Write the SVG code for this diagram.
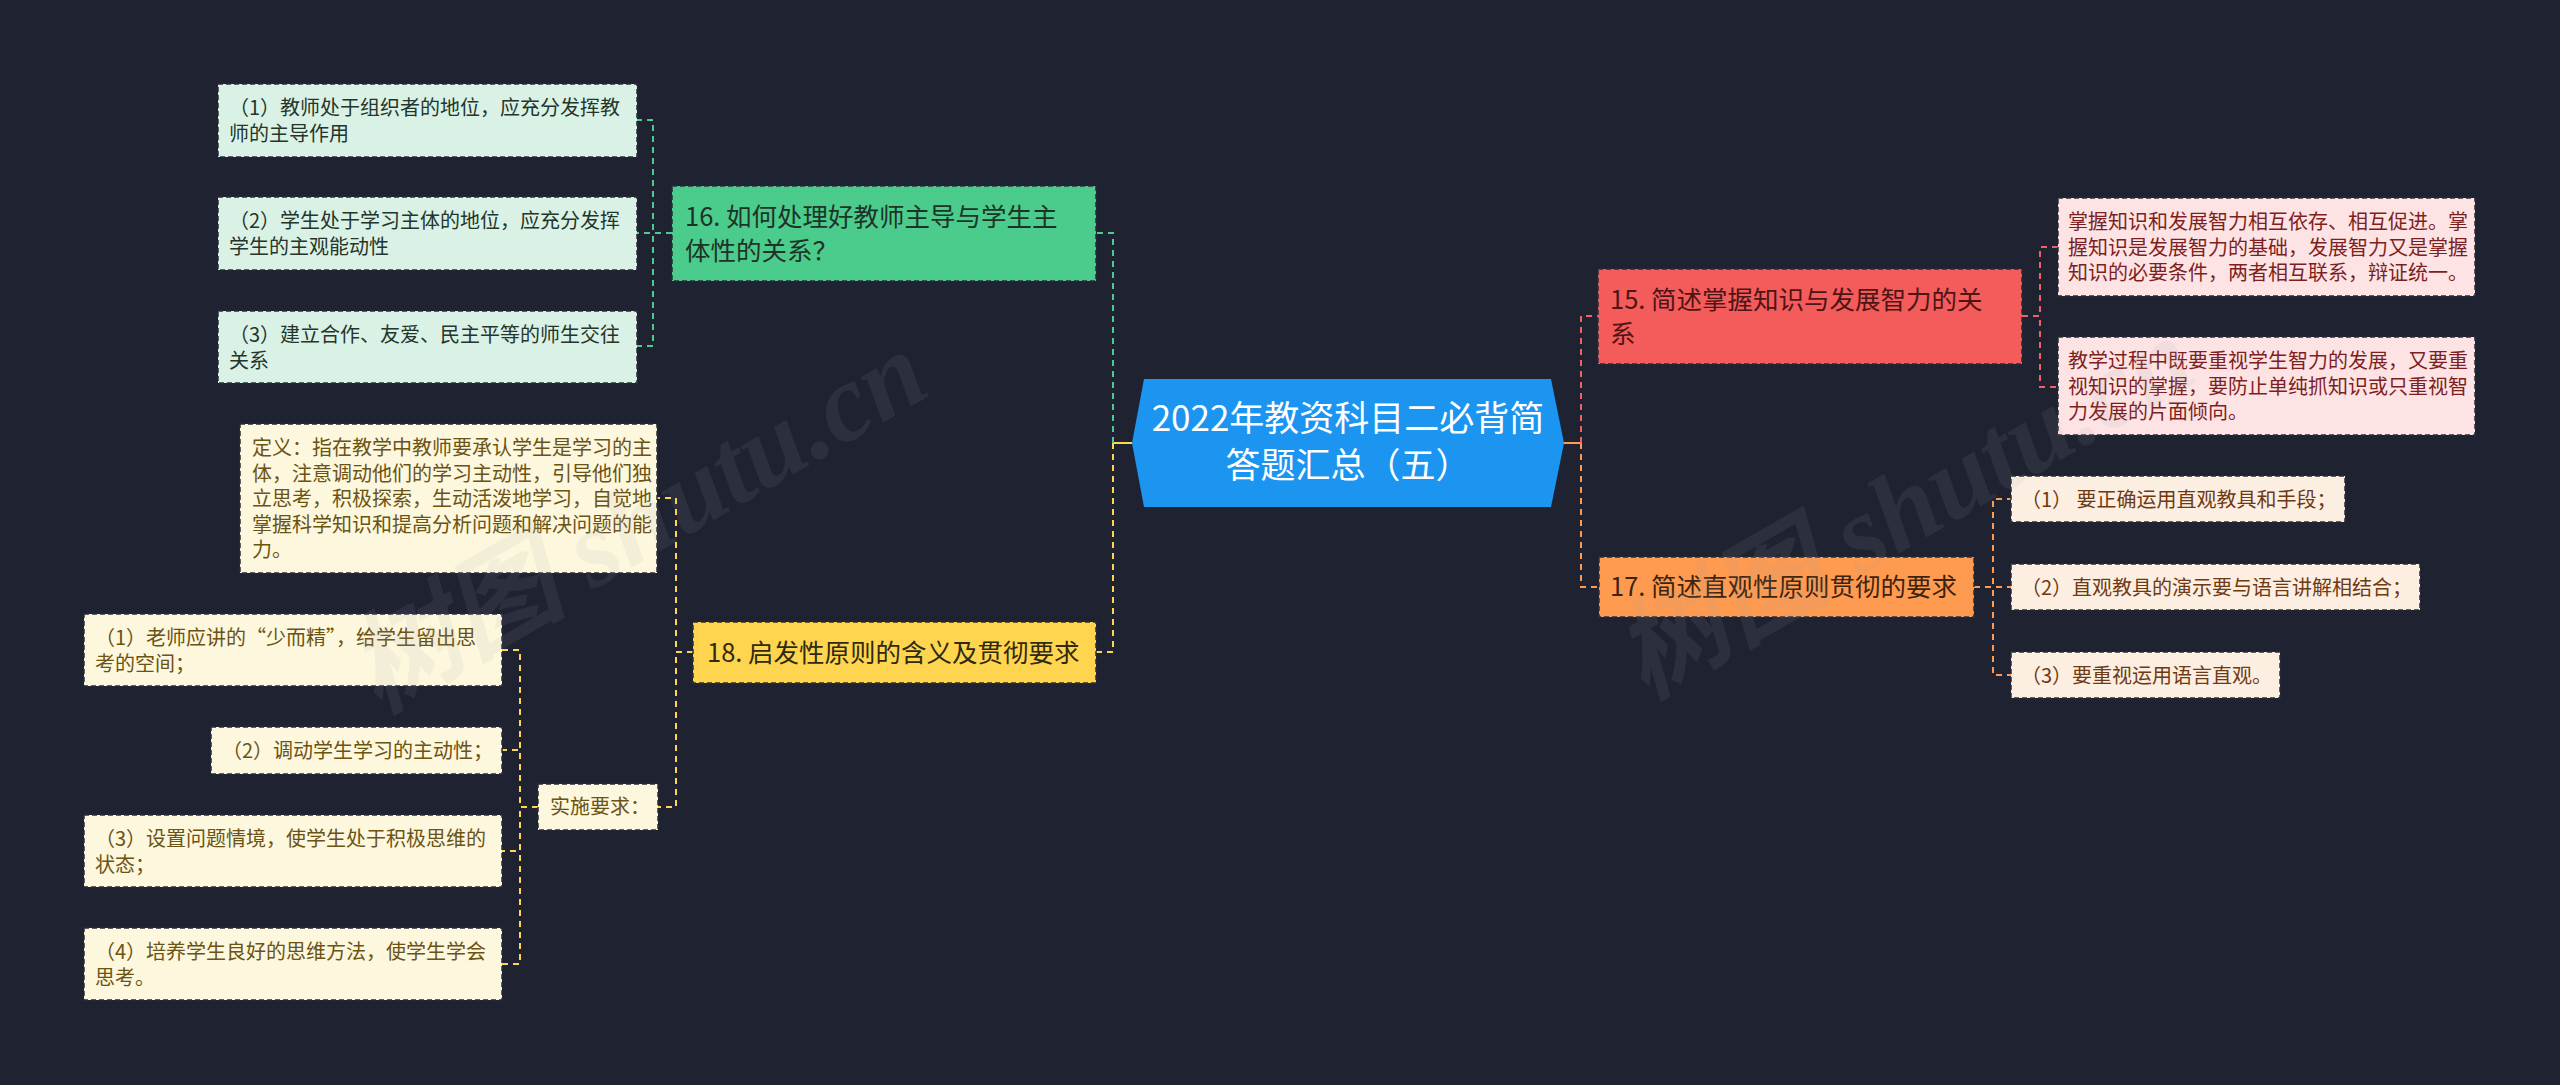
<svg xmlns="http://www.w3.org/2000/svg" width="2560" height="1085" viewBox="0 0 2560 1085">
<style>
text{font-family:"Noto Sans CJK SC","Noto Sans",sans-serif;}
.box{stroke:#2a2d38;stroke-width:1.5;stroke-dasharray:5 3;}
.t20{font-size:20px;}
.t25{font-size:25.5px;}
.c{fill:none;stroke-width:2;stroke-dasharray:6 5;}
.g{stroke:#4bcb8c;} .r{stroke:#f06262;} .o{stroke:#ff9b50;} .y{stroke:#ffd54f;}
.lf{fill:#daf2e6;} .lt{fill:#24352c;}
.rf{fill:#fde3e3;} .rt{fill:#7d1f1f;}
.of{fill:#fdeee2;} .ot{fill:#6e3a13;}
.yf{fill:#fdf7dd;} .yt{fill:#6b5314;}
.wm{font-family:"Liberation Serif","Noto Sans CJK SC",serif;font-size:110px;font-style:italic;font-weight:bold;fill:#a0a4ac;opacity:0.1;}
</style>
<rect width="2560" height="1085" fill="#1f2230"/>

<g id="connectors">
  <path d="M1132 443 H1113" fill="none" stroke="#ffd54f" stroke-width="2"/>
  <path d="M1563 443 H1581" fill="none" stroke="#ff9b50" stroke-width="2"/>
  <path class="c g" d="M1113 443 V233 H1096"/>
  <path class="c y" d="M1113 443 V652 H1096"/>
  <path class="c r" d="M1581 443 V316 H1598"/>
  <path class="c o" d="M1581 443 V587 H1599"/>
  <path class="c g" d="M672 233 H653 V120 H637"/>
  <path class="c g" d="M672 233 H653 H637"/>
  <path class="c g" d="M672 233 H653 V346 H637"/>
  <path class="c r" d="M2022 316 H2040 V247 H2058"/>
  <path class="c r" d="M2022 316 H2040 V387 H2058"/>
  <path class="c o" d="M1974 587 H1993 V499 H2011"/>
  <path class="c o" d="M1974 587 H1993 H2011"/>
  <path class="c o" d="M1974 587 H1993 V675 H2011"/>
  <path class="c y" d="M693 652 H676 V498 H657"/>
  <path class="c y" d="M693 652 H676 V807 H658"/>
  <path class="c y" d="M538 807 H520 V650 H502"/>
  <path class="c y" d="M538 807 H520 V750 H502"/>
  <path class="c y" d="M538 807 H520 V851 H502"/>
  <path class="c y" d="M538 807 H520 V964 H502"/>
</g>

<g id="center">
  <polygon points="1132,443 1144,379 1551,379 1564,443 1551,507 1144,507" fill="#1b95f0"/>
  <text x="1348" y="431" font-size="35" fill="#ffffff" text-anchor="middle">2022年教资科目二必背简</text>
  <text x="1348" y="478" font-size="35" fill="#ffffff" text-anchor="middle">答题汇总（五）</text>
</g>

<g id="n16">
  <rect class="box" x="672" y="186" width="424" height="95" fill="#4bcb8c"/>
  <text class="t25" x="685" y="226" fill="#1d3328">16. 如何处理好教师主导与学生主</text>
  <text class="t25" x="685" y="260" fill="#1d3328">体性的关系？</text>
</g>
<g id="n16-1">
  <rect class="box lf" x="218" y="84" width="419" height="73"/>
  <text class="t20 lt" x="229" y="115">（1）教师处于组织者的地位，应充分发挥教</text>
  <text class="t20 lt" x="229" y="141">师的主导作用</text>
</g>
<g id="n16-2">
  <rect class="box lf" x="218" y="197" width="419" height="73"/>
  <text class="t20 lt" x="229" y="228">（2）学生处于学习主体的地位，应充分发挥</text>
  <text class="t20 lt" x="229" y="254">学生的主观能动性</text>
</g>
<g id="n16-3">
  <rect class="box lf" x="218" y="311" width="419" height="72"/>
  <text class="t20 lt" x="229" y="342">（3）建立合作、友爱、民主平等的师生交往</text>
  <text class="t20 lt" x="229" y="368">关系</text>
</g>

<g id="n15">
  <rect class="box" x="1598" y="269" width="424" height="95" fill="#f45b5b"/>
  <text class="t25" x="1610" y="309" fill="#4d1515">15. 简述掌握知识与发展智力的关</text>
  <text class="t25" x="1610" y="343" fill="#4d1515">系</text>
</g>
<g id="n15-1">
  <rect class="box rf" x="2058" y="198" width="417" height="98"/>
  <text class="t20 rt" x="2068" y="229">掌握知识和发展智力相互依存、相互促进。掌</text>
  <text class="t20 rt" x="2068" y="255">握知识是发展智力的基础，发展智力又是掌握</text>
  <text class="t20 rt" x="2068" y="280">知识的必要条件，两者相互联系，辩证统一。</text>
</g>
<g id="n15-2">
  <rect class="box rf" x="2058" y="337" width="417" height="98"/>
  <text class="t20 rt" x="2068" y="368">教学过程中既要重视学生智力的发展，又要重</text>
  <text class="t20 rt" x="2068" y="394">视知识的掌握，要防止单纯抓知识或只重视智</text>
  <text class="t20 rt" x="2068" y="419">力发展的片面倾向。</text>
</g>

<g id="n17">
  <rect class="box" x="1599" y="557" width="375" height="60" fill="#ff9b50"/>
  <text class="t25" x="1610" y="596" fill="#3d2410">17. 简述直观性原则贯彻的要求</text>
</g>
<g id="n17-1">
  <rect class="box of" x="2011" y="476" width="334" height="46"/>
  <text class="t20 ot" x="2021" y="507">（1） 要正确运用直观教具和手段；</text>
</g>
<g id="n17-2">
  <rect class="box of" x="2011" y="564" width="409" height="46"/>
  <text class="t20 ot" x="2021" y="595">（2）直观教具的演示要与语言讲解相结合；</text>
</g>
<g id="n17-3">
  <rect class="box of" x="2011" y="652" width="269" height="46"/>
  <text class="t20 ot" x="2021" y="683">（3）要重视运用语言直观。</text>
</g>

<g id="n18">
  <rect class="box" x="693" y="622" width="403" height="61" fill="#ffd54f"/>
  <text class="t25" x="707" y="662" fill="#2f2a10">18. 启发性原则的含义及贯彻要求</text>
</g>
<g id="n18-def">
  <rect class="box yf" x="240" y="424" width="417" height="149"/>
  <text class="t20 yt" x="252" y="455">定义：指在教学中教师要承认学生是学习的主</text>
  <text class="t20 yt" x="252" y="481">体，注意调动他们的学习主动性，引导他们独</text>
  <text class="t20 yt" x="252" y="506">立思考，积极探索，生动活泼地学习，自觉地</text>
  <text class="t20 yt" x="252" y="532">掌握科学知识和提高分析问题和解决问题的能</text>
  <text class="t20 yt" x="252" y="557">力。</text>
</g>
<g id="n18-req">
  <rect class="box yf" x="538" y="784" width="120" height="46"/>
  <text class="t20 yt" x="550" y="814">实施要求：</text>
</g>
<g id="n18-req-1">
  <rect class="box yf" x="84" y="614" width="418" height="72"/>
  <text class="t20 yt" x="95" y="645">（1）老师应讲的“少而精”，给学生留出思</text>
  <text class="t20 yt" x="95" y="671">考的空间；</text>
</g>
<g id="n18-req-2">
  <rect class="box yf" x="211" y="727" width="291" height="47"/>
  <text class="t20 yt" x="222" y="758">（2）调动学生学习的主动性；</text>
</g>
<g id="n18-req-3">
  <rect class="box yf" x="84" y="815" width="418" height="72"/>
  <text class="t20 yt" x="95" y="846">（3）设置问题情境，使学生处于积极思维的</text>
  <text class="t20 yt" x="95" y="872">状态；</text>
</g>
<g id="n18-req-4">
  <rect class="box yf" x="84" y="928" width="418" height="72"/>
  <text class="t20 yt" x="95" y="959">（4）培养学生良好的思维方法，使学生学会</text>
  <text class="t20 yt" x="95" y="985">思考。</text>
</g>

<g id="watermark">
  <text class="wm" transform="translate(378,714) rotate(-30)">树图 shutu.cn</text>
  <text class="wm" transform="translate(1645,700) rotate(-30)">树图 shutu.cn</text>
</g>
</svg>
